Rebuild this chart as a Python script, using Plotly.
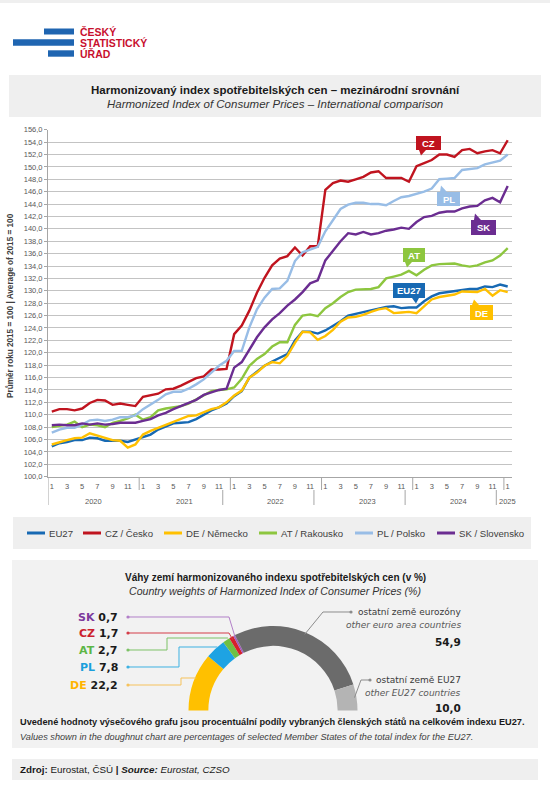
import math
import plotly.graph_objects as go

W, H = 550, 795

# ---------------- data ----------------
years = ["2020", "2021", "2022", "2023", "2024", "2025"]
months_in_year = [12, 12, 12, 12, 12, 1]
periods = [f"{y}-{m:02d}" for y, n in zip(years, months_in_year) for m in range(1, n + 1)]

eu27 = [104.9, 105.4, 105.6, 105.9, 105.9, 106.3, 106.2, 105.8, 105.8, 105.8, 105.6, 106.0,
        106.4, 106.8, 107.6, 108.1, 108.6, 108.7, 108.8, 109.3, 110.0, 110.7, 111.2, 111.8,
        113.0, 113.8, 116.0, 117.0, 117.9, 118.6, 119.2, 119.8, 122.0, 123.4, 123.4, 123.1,
        123.6, 124.3, 125.1, 126.0, 126.3, 126.6, 126.8, 127.1, 127.4, 127.5, 127.2, 127.3,
        127.3, 128.3, 129.1, 129.6, 129.8, 129.9, 130.2, 130.3, 130.3, 130.7, 130.6, 131.0,
        130.7]
cz = [110.5, 110.9, 110.9, 110.7, 111.0, 111.9, 112.4, 112.3, 111.6, 111.8, 111.6, 111.4,
      112.9, 113.2, 113.4, 114.1, 114.2, 114.7, 115.3, 115.9, 116.2, 117.3, 117.3, 117.4,
      123.0, 124.4, 126.8, 129.7, 132.1, 134.1, 135.2, 135.6, 137.0, 135.7, 137.2, 137.2,
      146.3, 147.4, 147.8, 147.6, 148.0, 148.4, 149.1, 149.3, 148.2, 148.2, 148.2, 147.6,
      150.1, 150.6, 151.1, 152.0, 152.0, 151.6, 152.7, 152.9, 152.2, 152.5, 152.7, 152.2,
      154.3]
de = [105.2, 105.6, 105.9, 106.2, 106.3, 107.0, 106.6, 106.2, 105.9, 105.8, 104.7, 105.2,
      106.8, 107.4, 107.9, 108.4, 108.8, 109.3, 109.8, 109.9, 110.4, 110.9, 111.2, 112.0,
      113.1, 113.9, 116.0, 116.8, 117.9, 118.5, 118.3, 119.5, 121.6, 123.4, 123.3, 122.1,
      122.7, 123.7, 125.0, 125.7, 125.8, 126.1, 126.6, 127.0, 127.2, 126.4, 126.5, 126.6,
      126.4, 127.5, 128.6, 129.0, 129.2, 129.4, 129.9, 129.9, 129.8, 130.3, 129.2, 130.1,
      129.8]
at = [108.0, 108.2, 108.4, 108.9, 108.0, 108.4, 108.3, 108.0, 108.7, 109.0, 109.4, 110.0,
      109.2, 109.6, 110.7, 111.0, 111.2, 111.4, 111.8, 112.5, 113.2, 113.8, 114.0, 114.1,
      114.4, 115.8, 117.9, 119.0, 119.8, 121.0, 121.7, 121.7, 124.5, 126.0, 126.2, 125.9,
      127.2, 128.0, 129.0, 129.8, 130.2, 130.3, 130.3, 130.6, 132.0, 132.3, 132.6, 133.2,
      132.5, 133.4, 134.1, 134.3, 134.4, 134.4, 134.1, 133.9, 134.1, 134.6, 134.9, 135.7,
      136.9]
pl = [107.1, 107.6, 107.9, 107.9, 108.4, 109.1, 109.2, 109.0, 109.2, 109.6, 109.6, 109.9,
      110.9, 111.6, 112.4, 113.3, 113.7, 113.7, 114.2, 114.9, 115.7, 116.8, 117.9, 118.7,
      120.3, 120.3, 124.1, 127.0, 128.9, 130.3, 130.4, 131.6, 134.8, 136.2, 136.7, 137.1,
      139.6, 141.4, 143.2, 143.9, 144.2, 144.2, 144.0, 144.0, 143.8, 144.5, 145.1, 145.3,
      145.6, 146.0, 146.5, 148.0, 148.1, 148.2, 149.5, 149.6, 149.8, 150.4, 150.7, 151.0,
      152.0]
sk = [108.3, 108.4, 108.3, 108.3, 108.6, 108.4, 108.6, 108.4, 108.5, 108.7, 108.7, 108.7,
      109.0, 109.3, 109.9, 110.3, 110.9, 111.4, 111.9, 112.4, 113.2, 113.6, 114.0, 114.2,
      117.6, 118.5, 120.6, 122.5, 124.1, 125.4, 126.4, 127.6, 128.6, 129.8, 131.2, 131.7,
      134.9, 136.4, 138.0, 139.3, 139.1, 139.5, 139.1, 139.3, 139.7, 139.9, 140.2, 140.0,
      141.1, 141.9, 142.1, 142.6, 142.8, 142.8, 143.3, 143.6, 143.7, 144.6, 145.0, 144.3,
      146.9]

series_values = [eu27, cz, de, at, pl, sk]
series_codes = ["EU27", "CZ", "DE", "AT", "PL", "SK"]
series_names = ["EU27", "CZ / Česko", "DE / Německo", "AT / Rakousko", "PL / Polsko", "SK / Slovensko"]
series_colors = ["#1769b3", "#c0141f", "#ffc000", "#8dc63f", "#98bde6", "#6b2d91"]

y_tick_values = list(range(100, 157, 2))
month_tick_labels = ["1", "3", "5", "7", "9", "11"]

weight_names = ["DE", "PL", "AT", "CZ", "SK", "ostatní země eurozóny", "ostatní země EU27"]
weight_names_en = ["", "", "", "", "", "other euro area countries", "other EU27 countries"]
weight_values = [22.2, 7.8, 2.7, 1.7, 0.7, 54.9, 10.0]
weight_colors = ["#ffc000", "#1ea3e3", "#6fbf44", "#d6202b", "#a15cbf", "#6b6b6b", "#b4b4b4"]
weight_text_colors = ["#ffb400", "#1a9fdc", "#5cb646", "#cc1f2e", "#7d3a9d"]
weight_line_colors = ["#f6c25c", "#3db1e2", "#7dc267", "#d43c48", "#b27fc8", "#8c8c8c", "#8c8c8c"]

# ---------------- helpers ----------------
def X(px):
    return px / W

def Y(py):
    return 1 - py / H

def fmt(v):
    return f"{v:.1f}".replace(".", ",")

FONT = "Liberation Sans, Arial, sans-serif"
RFONT = "DejaVu Sans, sans-serif"

PL_L, PL_R, PL_T, PL_B = 48, 511.5, 129.7, 476.7

shapes = []
ann = []

def rect(x0, y0, x1, y1, color, layer="below"):
    shapes.append(dict(type="rect", xref="paper", yref="paper", x0=X(x0), x1=X(x1),
                       y0=Y(y1), y1=Y(y0), fillcolor=color, line=dict(width=0), layer=layer))

def text(x, y, s, size, color="#222", xanchor="center", family=FONT, **kw):
    ann.append(dict(xref="paper", yref="paper", x=X(x), y=Y(y), text=s, showarrow=False,
                    xanchor=xanchor, yanchor="middle", font=dict(size=size, color=color, family=family), **kw))

def pline(points, color, width=1.0, layer="above"):
    path = "M " + " L ".join(f"{X(px):.5f},{Y(py):.5f}" for px, py in points)
    shapes.append(dict(type="path", xref="paper", yref="paper", path=path,
                       line=dict(color=color, width=width), layer=layer))

def tri(points, color):
    path = "M " + " L ".join(f"{X(px):.5f},{Y(py):.5f}" for px, py in points) + " Z"
    shapes.append(dict(type="path", xref="paper", yref="paper", path=path,
                       fillcolor=color, line=dict(width=0), layer="above"))

def dot(x, y, color, r=1.6):
    shapes.append(dict(type="circle", xref="paper", yref="paper", x0=X(x - r), x1=X(x + r),
                       y0=Y(y + r), y1=Y(y - r), fillcolor=color, line=dict(width=0), layer="above"))

fig = go.Figure()

# ---------------- line chart ----------------
for vals, name, col in zip(series_values, series_names, series_colors):
    fig.add_trace(go.Scatter(x=periods, y=vals, name=name, mode="lines",
                             line=dict(color=col, width=2.4), hoverinfo="skip", showlegend=False))

tickvals = [p for p in periods if p.split("-")[1].lstrip("0") in month_tick_labels]
ticktext = [p.split("-")[1].lstrip("0") for p in tickvals]

# ---------------- header ----------------
rect(0, 0, 550, 3, "#efefef")
blue = "#1f65b1"
rect(44, 28.5, 74, 34.5, blue)
rect(13, 39.3, 74, 45.8, blue)
rect(48, 50.3, 74, 56.7, blue)
for yy, t in zip([32, 43.2, 54.2], ["ČESKÝ", "STATISTICKÝ", "ÚŘAD"]):
    text(78, yy, f"<b>{t}</b>", 10.5, "#c8102e", xanchor="left", family="Liberation Sans, Arial")

rect(9, 75, 541, 117, "#efefef")
text(275, 90, "<b>Harmonizovaný index spotřebitelských cen – mezinárodní srovnání</b>", 11.5, "#1a1a1a")
text(275, 104, "<i>Harmonized Index of Consumer Prices – International comparison</i>", 11.5, "#333")

# y axis title
ann.append(dict(xref="paper", yref="paper", x=X(10), y=Y(306), textangle=-90, showarrow=False,
                text="<b>Průměr roku 2015 = 100 | Average of 2015 = 100</b>", xanchor="center", yanchor="middle",
                font=dict(size=8.2, color="#404040", family=FONT)))

# year labels + dividers
start = 0
for yr, n in zip(years, months_in_year):
    ann.append(dict(xref="x", yref="paper", x=start + (n - 1) / 2, y=Y(501), text=yr, showarrow=False,
                    xanchor="center", yanchor="middle", font=dict(size=7.5, color="#595959", family=FONT)))
    start += n
div_col = "#a6a6a6"
shapes.append(dict(type="line", xref="x", yref="paper", x0=-0.5, x1=-0.5, y0=Y(477), y1=Y(505),
                   line=dict(color=div_col, width=1)))
start = 0
for i, n in enumerate(months_in_year[:-1]):
    start += n
    shapes.append(dict(type="line", xref="x", yref="paper", x0=start - 0.5, x1=start - 0.5, y0=Y(477), y1=Y(490),
                       line=dict(color=div_col, width=1)))
    if i >= 1:
        shapes.append(dict(type="line", xref="x", yref="paper", x0=start - 1.5, x1=start - 1.5, y0=Y(490), y1=Y(505),
                           line=dict(color=div_col, width=1)))

# callout labels
callouts = {
    "CZ": (416, 136, 441, 150, [(419, 150), (426, 150), (421, 155.5)]),
    "PL": (437, 192, 460, 206, [(440, 192), (447, 192), (441, 185.5)]),
    "SK": (471, 220, 496, 235, [(474, 220), (481, 220), (475, 213.5)]),
    "AT": (403, 248, 425, 262, [(405, 262), (412, 262), (407, 267.5)]),
    "EU27": (393, 283, 425, 298, [(412, 298), (419, 298), (416, 303.5)]),
    "DE": (470, 305, 493, 320, [(472, 305), (479, 305), (474, 299.5)]),
}
for code, col in zip(series_codes, series_colors):
    x0, y0, x1, y1, tp = callouts[code]
    rect(x0, y0, x1, y1, col, layer="above")
    tri(tp, col)
    text((x0 + x1) / 2, (y0 + y1) / 2 + 0.5, f"<b>{code}</b>", 9.5, "white")

# legend
rect(13, 517, 531, 549, "#efefef")
leg_x = [27, 83, 164, 259, 355, 437]
for lx, name, col in zip(leg_x, series_names, series_colors):
    shapes.append(dict(type="line", xref="paper", yref="paper", x0=X(lx), x1=X(lx + 18), y0=Y(533), y1=Y(533),
                       line=dict(color=col, width=3)))
    text(lx + 19.5, 533, name, 9.6, "#404040", xanchor="left")

# ---------------- doughnut ----------------
rect(12, 560, 538, 748, "#f2f2f2")
text(275, 577, "<b>Váhy zemí harmonizovaného indexu spotřebitelských cen (v %)</b>", 10, "#1a1a1a")
text(275, 591, "<i>Country weights of Harmonized Index of Consumer Prices (%)</i>", 10.6, "#333")

CX, CY, R = 273, 710.5, 84.5
HOLE = 0.765
total = sum(weight_values)
fig.add_trace(go.Pie(values=weight_values + [total], labels=weight_names + [" "], sort=False,
                     direction="clockwise", rotation=-90, hole=HOLE, textinfo="none", hoverinfo="skip",
                     marker=dict(colors=weight_colors + ["rgba(0,0,0,0)"], line=dict(width=0)),
                     domain=dict(x=[X(CX - R), X(CX + R)], y=[max(0, Y(CY + R)), Y(CY - R)]), showlegend=False))

def arc_pt(frac, r):
    a = math.pi - frac * math.pi
    return CX + r * math.cos(a), CY - r * math.sin(a)

cum = []
c = 0
for v in weight_values:
    cum.append((c + v / 2) / total)
    c += v

label_y = {"SK": 617, "CZ": 633, "AT": 650, "PL": 667, "DE": 685}
elbow = {"SK": None, "CZ": None, "AT": (167, 638), "PL": (179, 647), "DE": (181, 678)}
for k in range(5):
    code = weight_names[k]
    ly = label_y[code]
    text(120, ly, f"<b><span style='color:{weight_text_colors[k]}'>{code}</span> {fmt(weight_values[k])}</b>",
         11, "#1a1a1a", xanchor="right", family=RFONT)
    tx, ty = arc_pt(cum[k], R - 3)
    if elbow[code] is None:
        pts = [(128, ly), (229, ly), (tx, ty)]
    else:
        ex, ey = elbow[code]
        pts = [(128, ly), (ex, ly), (ex, ey), (tx, ey)]
    pline(pts, weight_line_colors[k], 1.0)
    dot(128, ly, weight_line_colors[k])

right_cfg = {5: (351, 612, 323, 642), 6: (370, 680, 361, 708)}
for k, (dx, dy, bx, vy) in right_cfg.items():
    tx, ty = arc_pt(cum[k], R - 2)
    pline([(dx, dy), (bx, dy), (tx, ty)], weight_line_colors[k], 1.0)
    dot(dx, dy, weight_line_colors[k])
    text(463, dy, weight_names[k], 9, "#3a3a3a", xanchor="right", family=RFONT)
    text(463, dy + 13, f"<i>{weight_names_en[k]}</i>", 9, "#595959", xanchor="right", family=RFONT)
    text(463, vy, f"<b>{fmt(weight_values[k])}</b>", 10.5, "#1a1a1a", xanchor="right", family=RFONT)

text(18, 722, "<b>Uvedené hodnoty výsečového grafu jsou procentuální podíly vybraných členských států na celkovém indexu EU27.</b>",
     9.2, "#1a1a1a", xanchor="left")
text(18, 736.5, "<i>Values shown in the doughnut chart are percentages of selected Member States of the total index for the EU27.</i>",
     9.2, "#404040", xanchor="left")

rect(12, 759, 538, 780, "#efefef")
text(18, 769.5, "<b>Zdroj:</b> Eurostat, ČSÚ <b>|</b> <b><i>Source:</i></b> <i>Eurostat, CZSO</i>", 9.8, "#1a1a1a", xanchor="left")

fig.update_layout(
    width=W, height=H, margin=dict(l=0, r=0, t=0, b=0),
    paper_bgcolor="white", plot_bgcolor="white", template="none",
    separators=", ", showlegend=False,
    font=dict(family=FONT),
    shapes=shapes, annotations=ann,
    xaxis=dict(domain=[X(PL_L), X(PL_R)], type="category", categoryorder="array", categoryarray=periods,
               range=[-0.5, len(periods) - 0.5], tickvals=tickvals, ticktext=ticktext,
               tickfont=dict(size=7.5, color="#595959", family=FONT), ticks="outside", ticklen=2,
               tickcolor="rgba(0,0,0,0)", showgrid=False, showline=True, linecolor="#a6a6a6", linewidth=1,
               zeroline=False, automargin=False, fixedrange=True),
    yaxis=dict(domain=[Y(PL_B), Y(PL_T)], range=[100, 156], tickvals=y_tick_values, tickformat=".1f",
               tickfont=dict(size=7.5, color="#595959", family=FONT), ticks="outside", ticklen=3,
               tickcolor="#a6a6a6", showgrid=True, gridcolor="#c3c3c3", gridwidth=1.3,
               showline=True, linecolor="#a6a6a6", linewidth=1, zeroline=False, automargin=False, fixedrange=True),
)

fig.write_html("out.html", config={"displayModeBar": False},
               post_script="document.body.style.margin='0';document.body.style.padding='0';document.body.style.overflow='hidden';")
